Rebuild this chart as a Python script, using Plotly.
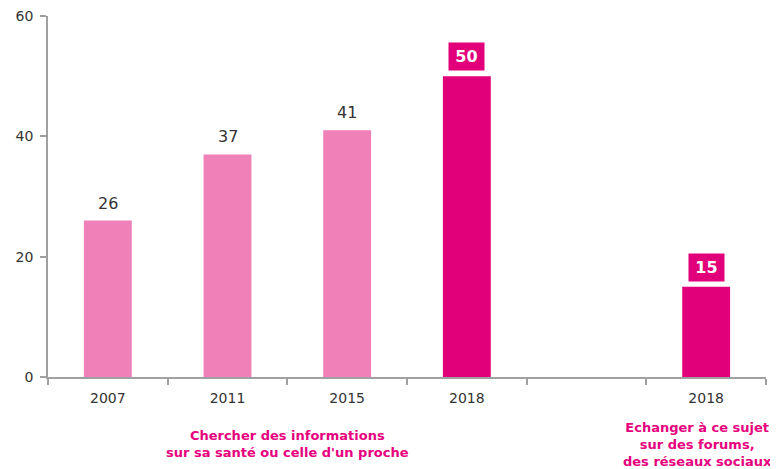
import plotly.graph_objects as go

categories = ["2007", "2011", "2015", "2018", "gap", "2018b"]
tick_labels = ["2007", "2011", "2015", "2018", "", "2018"]
values = [26, 37, 41, 50, None, 15]
highlight = [False, False, False, True, False, True]
group_titles = ["Chercher des informations<br>sur sa santé ou celle d'un proche",
                "Echanger à ce sujet<br>sur des forums,<br>des réseaux sociaux"]
group_centers = [1.5, 5]

LIGHT = "#F080B8"
DARK = "#E2007A"
colors = [DARK if h else LIGHT for h in highlight]

fig = go.Figure()
fig.add_trace(go.Bar(x=categories, y=values, marker=dict(color=colors, line=dict(width=0)),
                     width=0.4, hoverinfo="skip"))

for i, (v, h) in enumerate(zip(values, highlight)):
    if v is None:
        continue
    if h:
        fig.add_annotation(x=i, y=v, xref="x", yref="y", text="<b>%d</b>" % v, showarrow=False,
                           yanchor="bottom", yshift=5, bgcolor=DARK, width=33, height=25,
                           font=dict(family="DejaVu Sans", size=16, color="white"))
    else:
        fig.add_annotation(x=i, y=v, xref="x", yref="y", text="%d" % v, showarrow=False,
                           yanchor="bottom", yshift=6,
                           font=dict(family="DejaVu Sans", size=16, color="#333333"))

title_shifts = [(0, -49), (-9, -41)]
for cx, t, (xs, ys) in zip(group_centers, group_titles, title_shifts):
    fig.add_annotation(x=cx, y=0, xref="x", yref="paper", text="<b>" + t + "</b>",
                       showarrow=False, yanchor="top", xshift=xs, yshift=ys,
                       font=dict(family="DejaVu Sans", size=13, color="#E6007E"))

fig.update_layout(
    width=770, height=461,
    margin=dict(l=40, r=12, t=8, b=92, autoexpand=False),
    plot_bgcolor="white", paper_bgcolor="white",
    showlegend=False,
    font=dict(family="DejaVu Sans", color="#333333"),
    xaxis=dict(type="category", categoryorder="array", categoryarray=categories,
               tickvals=categories, ticktext=tick_labels, tickson="boundaries",
               ticks="outside", ticklen=6, tickcolor="#A0A0A0", tickwidth=1.5,
               showline=True, linecolor="#A0A0A0", linewidth=1.5, automargin=False,
               showgrid=False, tickfont=dict(size=14, color="#333333"),
               ticklabelstandoff=7, range=[-0.5, 5.5]),
    yaxis=dict(range=[0, 60], tickvals=[0, 20, 40, 60], ticks="outside", ticklen=6,
               tickcolor="#A0A0A0", tickwidth=1.5, showline=True, linecolor="#A0A0A0",
               linewidth=1.5, showgrid=False, zeroline=False, automargin=False,
               ticklabeloverflow="allow",
               tickfont=dict(size=14, color="#333333"), ticklabelstandoff=4),
)

fig.write_html("out.html")
